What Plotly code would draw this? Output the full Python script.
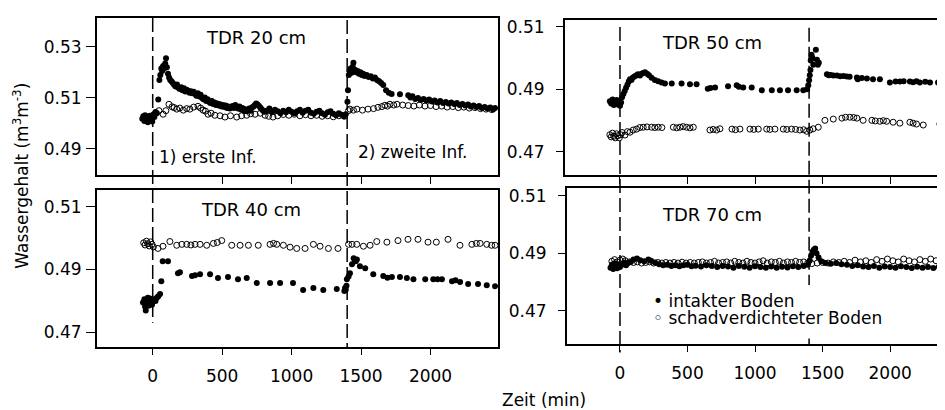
import plotly.graph_objects as go

# ---------------- data (time in min, water content in m3/m3) ----------------
infiltration_times = [0, 1400]

# TDR 20 cm
t20_int = [-75, -68, -60, -55, -48, -40, -35, -28, -20, -15, -8, -3, 5, 12, 20, 30, 40, 48, 55, 62, 68, 75, 82, 90, 96,
           102, 110, 118, 126, 135, 145, 155, 165, 175, 185, 195, 205, 215, 225, 235, 245, 255, 265, 275, 285, 295,
           305, 315, 325, 335, 345, 355, 365, 375, 385, 395, 405, 415, 425, 435, 445, 455, 465, 475, 485, 495, 505,
           515, 525, 535, 545, 555, 565, 575, 585, 595, 605, 615, 625, 635, 645, 655, 665, 675, 685, 695, 705, 715,
           725, 735, 745, 755, 765, 775, 785, 795, 805, 820, 840, 860, 880, 900, 920, 940, 960, 980, 1000, 1020,
           1040, 1060, 1080, 1100, 1120, 1140, 1160, 1180, 1200, 1220, 1240, 1260, 1280, 1300, 1320, 1340, 1360,
           1375, 1390, 1402, 1406, 1412, 1418, 1425, 1432, 1440, 1445, 1455, 1465, 1475, 1485, 1495, 1505, 1515,
           1525, 1540, 1555, 1570, 1585, 1600, 1615, 1630, 1645, 1660, 1680, 1700, 1720, 1780, 1840, 1855, 1870,
           1890, 1910, 1930, 1950, 1970, 1990, 2010, 2030, 2050, 2070, 2090, 2110, 2130, 2150, 2170, 2190, 2210,
           2230, 2250, 2270, 2290, 2310, 2330, 2350, 2370, 2390, 2410, 2430, 2450, 2465]
v20_int = [0.5018, 0.5028, 0.5010, 0.5032, 0.5015, 0.5025, 0.5005, 0.5022, 0.5030, 0.5012, 0.5020, 0.5008, 0.5035,
           0.5025, 0.5045, 0.5040, 0.5094, 0.5170, 0.5190, 0.5215, 0.5205, 0.5225, 0.5215, 0.5235, 0.5255, 0.5220,
           0.5195, 0.5180, 0.5170, 0.5165, 0.5158, 0.5150, 0.5145, 0.5152, 0.5140, 0.5135, 0.5142, 0.5130, 0.5138,
           0.5125, 0.5132, 0.5128, 0.5120, 0.5126, 0.5118, 0.5124, 0.5115, 0.5108, 0.5118, 0.5105, 0.5112, 0.5100,
           0.5095, 0.5102, 0.5088, 0.5095, 0.5085, 0.5080, 0.5088, 0.5076, 0.5082, 0.5072, 0.5078, 0.5070, 0.5075,
           0.5066, 0.5072, 0.5064, 0.5070, 0.5060, 0.5066, 0.5058, 0.5064, 0.5068, 0.5060, 0.5072, 0.5064, 0.5058,
           0.5066, 0.5055, 0.5060, 0.5050, 0.5056, 0.5048, 0.5054, 0.5058, 0.5050, 0.5062, 0.5066, 0.5072, 0.5078,
           0.5074, 0.5068, 0.5062, 0.5056, 0.5050, 0.5046, 0.5050, 0.5058, 0.5044, 0.5054, 0.5048, 0.5040, 0.5050,
           0.5044, 0.5054, 0.5046, 0.5040, 0.5048, 0.5054, 0.5042, 0.5050, 0.5054, 0.5042, 0.5038, 0.5046, 0.5050,
           0.5040, 0.5034, 0.5044, 0.5048, 0.5038, 0.5032, 0.5040, 0.5034, 0.5028, 0.5036, 0.5085, 0.5130, 0.5190,
           0.5205, 0.5215, 0.5198, 0.5222, 0.5238, 0.5210, 0.5200, 0.5205, 0.5195, 0.5200, 0.5190, 0.5195, 0.5186,
           0.5190, 0.5182, 0.5185, 0.5176, 0.5180, 0.5170, 0.5165, 0.5158, 0.5150, 0.5130, 0.5120, 0.5115, 0.5114,
           0.5110, 0.5102, 0.5106, 0.5096, 0.5100, 0.5092, 0.5096, 0.5090, 0.5094, 0.5086, 0.5090, 0.5082, 0.5088,
           0.5080, 0.5084, 0.5078, 0.5082, 0.5076, 0.5080, 0.5072, 0.5076, 0.5070, 0.5074, 0.5066, 0.5070, 0.5064,
           0.5068, 0.5060, 0.5064, 0.5058, 0.5062, 0.5055, 0.5060]
t20_sch = [-60, -30, 0, 20, 45, 75, 95, 117, 140, 155, 173, 195, 220, 245, 268, 295, 326, 345, 363, 380, 398, 420,
           448, 485, 520, 560, 605, 640, 677, 705, 737, 775, 809, 835, 866, 900, 940, 980, 1020, 1060, 1100, 1140,
           1180, 1220, 1260, 1300, 1340, 1380, 1410, 1420, 1445, 1470, 1510, 1550, 1590, 1622, 1650, 1672, 1690,
           1708, 1735, 1758, 1800, 1840, 1880, 1920, 1960, 2000, 2040, 2080, 2120, 2160, 2200, 2240, 2280, 2320,
           2360, 2400, 2440]
v20_sch = [0.5020, 0.5025, 0.5030, 0.5040, 0.5050, 0.5036, 0.5050, 0.5075, 0.5065, 0.5062, 0.5056, 0.5060, 0.5052,
           0.5058, 0.5056, 0.5064, 0.5067, 0.5060, 0.5052, 0.5048, 0.5036, 0.5040, 0.5032, 0.5030, 0.5025, 0.5030,
           0.5025, 0.5030, 0.5032, 0.5038, 0.5036, 0.5040, 0.5032, 0.5028, 0.5025, 0.5030, 0.5035, 0.5032, 0.5036,
           0.5030, 0.5034, 0.5030, 0.5032, 0.5028, 0.5030, 0.5026, 0.5030, 0.5028, 0.5050, 0.5056, 0.5052, 0.5056,
           0.5052, 0.5056, 0.5058, 0.5063, 0.5066, 0.5071, 0.5068, 0.5075, 0.5072, 0.5075, 0.5072, 0.5070, 0.5068,
           0.5072, 0.5068, 0.5070, 0.5066, 0.5068, 0.5064, 0.5066, 0.5062, 0.5064, 0.5060, 0.5062, 0.5058, 0.5056,
           0.5054]

# TDR 50 cm
t50_int = [-75, -65, -55, -45, -35, -25, -15, -8, 0, 8, 15, 25, 35, 45, 55, 65, 74, 85, 96, 110, 123, 133, 148, 160,
           172, 185, 200, 215, 234, 258, 283, 308, 333, 383, 456, 518, 567, 650, 670, 704, 800, 864, 880, 912, 975,
           1050, 1124, 1184, 1244, 1308, 1357, 1385, 1394, 1400, 1405, 1410, 1412, 1418, 1425, 1431, 1450, 1458,
           1465, 1472, 1532, 1545, 1560, 1580, 1606, 1630, 1655, 1680, 1700, 1754, 1760, 1790, 1828, 1873, 1924,
           1998, 2040, 2072, 2100, 2146, 2170, 2195, 2220, 2260, 2295, 2354, 2380]
v50_int = [0.4862, 0.4855, 0.4868, 0.4850, 0.4860, 0.4866, 0.4852, 0.4862, 0.4848, 0.4858, 0.4875, 0.4885, 0.4895,
           0.4905, 0.4915, 0.4925, 0.4932, 0.4930, 0.4938, 0.4942, 0.4945, 0.4948, 0.4944, 0.4950, 0.4952, 0.4955,
           0.4950, 0.4945, 0.4937, 0.4930, 0.4926, 0.4922, 0.4919, 0.4919, 0.4919, 0.4916, 0.4916, 0.4902, 0.4904,
           0.4906, 0.4910, 0.4913, 0.4908, 0.4906, 0.4906, 0.4897, 0.4897, 0.4897, 0.4897, 0.4897, 0.4897, 0.4900,
           0.4913, 0.4929, 0.4945, 0.4962, 0.4992, 0.5011, 0.5000, 0.4979, 0.5027, 0.4995, 0.4979, 0.4985, 0.4948,
           0.4945, 0.4946, 0.4944, 0.4944, 0.4942, 0.4943, 0.4941, 0.4940, 0.4938, 0.4932, 0.4936, 0.4935, 0.4932,
           0.4932, 0.4922, 0.4925, 0.4925, 0.4926, 0.4925, 0.4923, 0.4926, 0.4922, 0.4924, 0.4922, 0.4922, 0.4920]
t50_sch = [-75, -65, -55, -45, -35, -25, -15, -5, 5, 15, 37, 55, 74, 98, 123, 147, 172, 200, 234, 258, 283, 310, 395,
           420, 444, 468, 493, 518, 543, 666, 690, 715, 740, 829, 855, 888, 962, 990, 1024, 1086, 1110, 1147, 1209,
           1235, 1270, 1300, 1332, 1360, 1382, 1406, 1430, 1468, 1517, 1579, 1643, 1670, 1702, 1730, 1754, 1800,
           1865, 1890, 1924, 1950, 1974, 2022, 2072, 2146, 2170, 2195, 2245, 2368]
v50_sch = [0.4755, 0.4748, 0.4760, 0.4750, 0.4745, 0.4758, 0.4752, 0.4745, 0.4755, 0.4762, 0.4754, 0.4765, 0.4763,
           0.4770, 0.4773, 0.4778, 0.4779, 0.4780, 0.4779, 0.4778, 0.4779, 0.4778, 0.4779, 0.4777, 0.4779, 0.4781,
           0.4779, 0.4777, 0.4779, 0.4770, 0.4772, 0.4770, 0.4774, 0.4773, 0.4771, 0.4773, 0.4773, 0.4772, 0.4773,
           0.4773, 0.4772, 0.4773, 0.4773, 0.4772, 0.4773, 0.4772, 0.4770, 0.4771, 0.4766, 0.4770, 0.4774, 0.4779,
           0.4801, 0.4805, 0.4808, 0.4811, 0.4811, 0.4810, 0.4808, 0.4801, 0.4801, 0.4799, 0.4798, 0.4800, 0.4798,
           0.4795, 0.4792, 0.4795, 0.4792, 0.4789, 0.4786, 0.4789]

# TDR 40 cm
t40_int = [-70, -60, -55, -50, -45, -40, -35, -30, -25, -20, -15, -10, -5, 0, 10, 20, 30, 40, 53, 62, 72, 110, 182,
           196, 283, 305, 341, 413, 470, 542, 614, 677, 749, 845, 917, 1010, 1083, 1157, 1228, 1325, 1380, 1385,
           1390, 1395, 1398, 1410, 1420, 1435, 1447, 1455, 1462, 1470, 1492, 1530, 1588, 1660, 1690, 1722, 1780,
           1830, 1877, 1962, 2020, 2050, 2082, 2155, 2180, 2213, 2271, 2342, 2405, 2465]
v40_int = [0.4795, 0.4805, 0.4782, 0.4770, 0.4800, 0.4790, 0.4810, 0.4785, 0.4798, 0.4808, 0.4792, 0.4802, 0.4788,
           0.4798, 0.4805, 0.4800, 0.4810, 0.4815, 0.4822, 0.4863, 0.4926, 0.4926, 0.4888, 0.4891, 0.4879, 0.4882,
           0.4885, 0.4885, 0.4873, 0.4876, 0.4869, 0.4873, 0.4857, 0.4857, 0.4857, 0.4857, 0.4835, 0.4841, 0.4835,
           0.4838, 0.4832, 0.4841, 0.4836, 0.4848, 0.4869, 0.4878, 0.4888, 0.4917, 0.4936, 0.4930, 0.4926, 0.4932,
           0.4910, 0.4904, 0.4885, 0.4879, 0.4874, 0.4876, 0.4876, 0.4873, 0.4869, 0.4869, 0.4869, 0.4869, 0.4869,
           0.4863, 0.4866, 0.4860, 0.4854, 0.4854, 0.4850, 0.4847]
t40_sch = [-65, -55, -45, -35, -25, -15, -5, 5, 38, 74, 124, 173, 210, 245, 275, 305, 341, 389, 437, 465, 497, 569,
           629, 689, 760, 845, 870, 893, 941, 989, 1037, 1097, 1157, 1205, 1265, 1334, 1410, 1435, 1469, 1517, 1565,
           1613, 1686, 1766, 1838, 1910, 1982, 2042, 2126, 2212, 2298, 2330, 2357, 2405, 2440, 2465]
v40_sch = [0.4985, 0.4978, 0.4990, 0.4982, 0.4975, 0.4988, 0.4980, 0.4972, 0.4967, 0.4974, 0.4989, 0.4977, 0.4980,
           0.4980, 0.4978, 0.4980, 0.4980, 0.4977, 0.4983, 0.4986, 0.4992, 0.4977, 0.4977, 0.4977, 0.4977, 0.4980,
           0.4983, 0.4980, 0.4977, 0.4971, 0.4967, 0.4967, 0.4980, 0.4974, 0.4967, 0.4967, 0.4980, 0.4980, 0.4980,
           0.4974, 0.4977, 0.4989, 0.4987, 0.4992, 0.4996, 0.4996, 0.4987, 0.4987, 0.4996, 0.4977, 0.4980, 0.4983,
           0.4983, 0.4980, 0.4977, 0.4977]

# TDR 70 cm
t70_int = [-70, -60, -50, -40, -30, -20, -10, 0, 15, 30, 45, 60, 80, 100, 126, 150, 180, 210, 230, 260, 290, 320,
           350, 380, 410, 440, 470, 500, 530, 560, 600, 640, 680, 720, 760, 800, 840, 880, 920, 960, 1000, 1040,
           1080, 1120, 1160, 1200, 1240, 1280, 1320, 1360, 1390, 1405, 1415, 1425, 1435, 1445, 1455, 1470, 1490,
           1520, 1560, 1600, 1640, 1680, 1720, 1760, 1800, 1840, 1880, 1920, 1960, 2000, 2040, 2080, 2120, 2160,
           2200, 2240, 2280, 2320, 2360, 2400]
v70_int = [0.4850, 0.4860, 0.4845, 0.4865, 0.4855, 0.4848, 0.4862, 0.4852, 0.4860, 0.4868, 0.4858, 0.4866, 0.4870,
           0.4878, 0.4882, 0.4876, 0.4872, 0.4878, 0.4874, 0.4868, 0.4862, 0.4858, 0.4860, 0.4856, 0.4858, 0.4855,
           0.4858, 0.4860, 0.4855, 0.4857, 0.4854, 0.4858, 0.4856, 0.4852, 0.4856, 0.4854, 0.4850, 0.4856, 0.4853,
           0.4850, 0.4855, 0.4852, 0.4850, 0.4854, 0.4850, 0.4853, 0.4851, 0.4855, 0.4852, 0.4856, 0.4860, 0.4875,
           0.4892, 0.4905, 0.4912, 0.4917, 0.4900, 0.4885, 0.4872, 0.4866, 0.4864, 0.4866, 0.4862, 0.4860, 0.4856,
           0.4858, 0.4854, 0.4852, 0.4856, 0.4850, 0.4854, 0.4852, 0.4850, 0.4855, 0.4852, 0.4849, 0.4853, 0.4850,
           0.4852, 0.4849, 0.4853, 0.4850]
t70_sch = [-60, -40, -20, 0, 20, 40, 70, 100, 130, 160, 190, 220, 250, 280, 310, 340, 370, 400, 430, 460, 490, 520,
           550, 580, 610, 640, 670, 700, 730, 760, 790, 820, 850, 880, 910, 940, 970, 1000, 1030, 1060, 1090, 1120,
           1150, 1180, 1210, 1240, 1270, 1300, 1330, 1360, 1390, 1420, 1460, 1500, 1540, 1580, 1620, 1660, 1700,
           1740, 1780, 1820, 1860, 1900, 1940, 1980, 2020, 2060, 2100, 2140, 2180, 2220, 2260, 2300, 2340, 2380]
v70_sch = [0.4872, 0.4878, 0.4870, 0.4876, 0.4880, 0.4874, 0.4870, 0.4868, 0.4870, 0.4866, 0.4868, 0.4870, 0.4866,
           0.4868, 0.4866, 0.4868, 0.4866, 0.4868, 0.4866, 0.4869, 0.4866, 0.4868, 0.4866, 0.4868, 0.4870, 0.4866,
           0.4868, 0.4872, 0.4866, 0.4868, 0.4870, 0.4866, 0.4872, 0.4868, 0.4866, 0.4872, 0.4868, 0.4866, 0.4870,
           0.4874, 0.4866, 0.4870, 0.4868, 0.4872, 0.4866, 0.4870, 0.4868, 0.4872, 0.4868, 0.4870, 0.4866, 0.4864,
           0.4866, 0.4868, 0.4866, 0.4870, 0.4868, 0.4872, 0.4868, 0.4876, 0.4870, 0.4874, 0.4868, 0.4878, 0.4872,
           0.4880, 0.4874, 0.4870, 0.4880, 0.4874, 0.4870, 0.4878, 0.4872, 0.4880, 0.4874, 0.4870]

panel_titles = ["TDR 20 cm", "TDR 50 cm", "TDR 40 cm", "TDR 70 cm"]
series_names = ["intakter Boden", "schadverdichteter Boden"]
x_ticks = [0, 500, 1000, 1500, 2000]
y_ticks_20 = [0.49, 0.51, 0.53]
y_ticks_other = [0.47, 0.49, 0.51]
y_title = "Wassergehalt (m<sup>3</sup>m<sup>-3</sup>)"
x_title = "Zeit (min)"
inf_labels = ["1) erste Inf.", "2) zweite Inf."]

# ---------------- figure ----------------
# the page body has an 8 px margin, so the figure is drawn 8 px right/down
OFF = 8
W, H = 945 - OFF, 410 - OFF
FONT = "DejaVu Sans"


def px(x):
    return (x - OFF) / W


def py(y):
    return 1 - (y - OFF) / H


fig = go.Figure()

panels = [
    (t20_int, v20_int, t20_sch, v20_sch, "x", "y"),
    (t50_int, v50_int, t50_sch, v50_sch, "x2", "y2"),
    (t40_int, v40_int, t40_sch, v40_sch, "x3", "y3"),
    (t70_int, v70_int, t70_sch, v70_sch, "x4", "y4"),
]
for ti, vi, ts, vs, xa, ya in panels:
    fig.add_trace(go.Scatter(x=ts, y=vs, mode="markers", xaxis=xa, yaxis=ya, name=series_names[1],
                             showlegend=False,
                             marker=dict(symbol="circle-open", size=6, color="black", line=dict(width=1))))
    fig.add_trace(go.Scatter(x=ti, y=vi, mode="markers", xaxis=xa, yaxis=ya, name=series_names[0],
                             showlegend=False,
                             marker=dict(symbol="circle", size=6, color="black")))

axis_common = dict(showgrid=False, zeroline=False, showline=True, linecolor="black", linewidth=2,
                   ticks="outside", tickcolor="black", tickwidth=1,
                   tickfont=dict(family=FONT, size=17, color="black"))

# domains (pixel based, reference picture coordinates)
dom = {
    "TL": ([px(97), px(498)], [py(173), py(15)]),
    "TR": ([px(565), 1.0], [py(173), py(17)]),
    "BL": ([px(97), px(498)], [py(347), py(188)]),
    "BR": ([px(567), 1.0], [py(344), py(186)]),
}

fig.update_layout(
    xaxis=dict(axis_common, domain=dom["TL"][0], range=[-401, 2486], tickvals=x_ticks, showticklabels=False,
               ticklen=7, mirror=True, anchor="y"),
    yaxis=dict(axis_common, domain=dom["TL"][1], range=[0.4799, 0.5413], tickvals=y_ticks_20, tickformat=".2f",
               ticklen=9, mirror=True, anchor="x", ticklabelstandoff=1),
    xaxis2=dict(axis_common, domain=dom["TR"][0], range=[-407, 2406], tickvals=x_ticks, showticklabels=False,
                ticklen=7, mirror=True, anchor="y2"),
    yaxis2=dict(axis_common, domain=dom["TR"][1], range=[0.4627, 0.5122], tickvals=y_ticks_other, tickformat=".2f",
                ticklen=7, mirror=False, anchor="x2", ticklabelstandoff=8),
    xaxis3=dict(axis_common, domain=dom["BL"][0], range=[-401, 2486], tickvals=x_ticks, ticklen=6, mirror=True,
                anchor="y3", ticklabelstandoff=6),
    yaxis3=dict(axis_common, domain=dom["BL"][1], range=[0.4652, 0.5154], tickvals=y_ticks_other, tickformat=".2f",
                ticklen=9, mirror=True, anchor="x3", ticklabelstandoff=1),
    xaxis4=dict(axis_common, domain=dom["BR"][0], range=[-392, 2406], tickvals=x_ticks, ticklen=6, mirror=True,
                anchor="y4", ticklabelstandoff=6),
    yaxis4=dict(axis_common, domain=dom["BR"][1], range=[0.4583, 0.5128], tickvals=y_ticks_other, tickformat=".2f",
                ticklen=7, mirror=False, anchor="x4", ticklabelstandoff=8),
    width=W, height=H, margin=dict(l=0, r=0, t=0, b=0),
    paper_bgcolor="white", plot_bgcolor="white",
    font=dict(family=FONT, size=17, color="black"),
    showlegend=False,
)

# dashed infiltration lines
dash = "14px,5px"
line_spans = [
    ("x", infiltration_times[0], py(15), py(322)),
    ("x", infiltration_times[1], py(17), py(347)),
    ("x2", infiltration_times[0], py(24), py(352)),
    ("x2", infiltration_times[1], py(25), py(350)),
]
for xr, xv, y0, y1 in line_spans:
    fig.add_shape(type="line", xref=xr, yref="paper", x0=xv, x1=xv, y0=y0, y1=y1,
                  line=dict(color="black", width=1.5, dash=dash), layer="above")

# white legend box (covers the dashed line)
fig.add_shape(type="rect", xref="paper", yref="paper", x0=px(648), x1=px(892), y0=py(338), y1=py(284),
              fillcolor="white", line=dict(width=0), layer="above")

ann = []
title_pos = [(256, 35), (712, 40), (251, 208), (712, 213)]
for t, (x, y) in zip(panel_titles, title_pos):
    ann.append(dict(text=t, x=px(x), y=py(y), xref="paper", yref="paper", showarrow=False,
                    xanchor="center", yanchor="middle", font=dict(family=FONT, size=18, color="black")))
ann.append(dict(text=inf_labels[0], x=px(157), y=py(155), xref="paper", yref="paper", showarrow=False,
                xanchor="left", yanchor="middle", font=dict(family=FONT, size=17, color="black")))
ann.append(dict(text=inf_labels[1], x=px(356), y=py(150), xref="paper", yref="paper", showarrow=False,
                xanchor="left", yanchor="middle", font=dict(family=FONT, size=17, color="black")))
ann.append(dict(text="\u2022 " + series_names[0], x=px(652), y=py(300), xref="paper", yref="paper",
                showarrow=False, xanchor="left", yanchor="middle", borderpad=0,
                font=dict(family=FONT, size=17, color="black")))
ann.append(dict(text="\u25e6 " + series_names[1], x=px(652), y=py(317), xref="paper", yref="paper",
                showarrow=False, xanchor="left", yanchor="middle", borderpad=0,
                font=dict(family=FONT, size=17, color="black")))
ann.append(dict(text=y_title, x=px(21), y=py(174), xref="paper", yref="paper", showarrow=False, textangle=-90,
                xanchor="center", yanchor="middle", font=dict(family=FONT, size=17, color="black")))
ann.append(dict(text=x_title, x=px(544), y=py(400), xref="paper", yref="paper", showarrow=False,
                xanchor="center", yanchor="middle", font=dict(family=FONT, size=17, color="black")))
fig.update_layout(annotations=ann)

fig.write_html("out.html")
